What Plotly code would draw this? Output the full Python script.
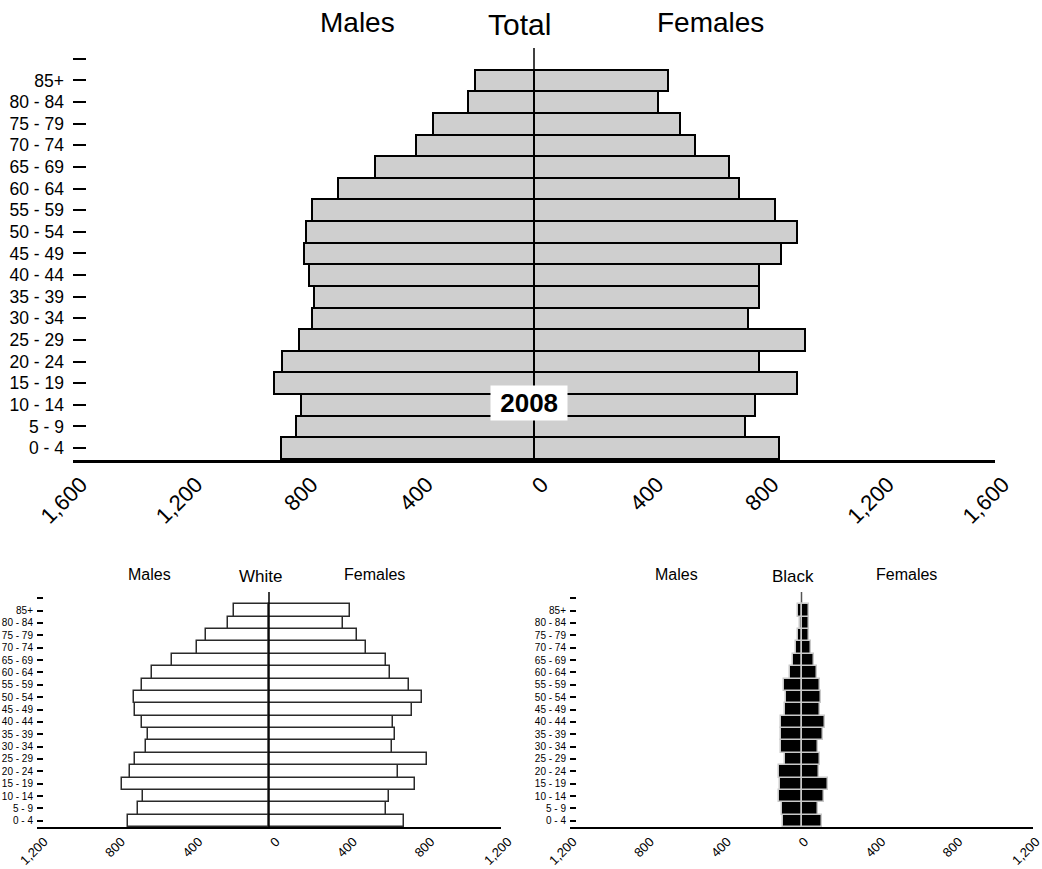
import plotly.graph_objects as go

# ---------------- data (bottom row 0-4 first) ----------------
age_groups = ["0 - 4", "5 - 9", "10 - 14", "15 - 19", "20 - 24", "25 - 29",
              "30 - 34", "35 - 39", "40 - 44", "45 - 49", "50 - 54", "55 - 59",
              "60 - 64", "65 - 69", "70 - 74", "75 - 79", "80 - 84", "85+"]
tick_labels_y = age_groups + [""]

total_males = [877, 826, 810, 903, 873, 815, 769, 762, 780, 797, 792, 769, 681, 553, 408, 350, 229, 206]
total_females = [849, 731, 768, 914, 782, 942, 743, 782, 782, 856, 912, 835, 713, 678, 560, 505, 430, 465]
white_males = [731, 676, 653, 762, 717, 691, 634, 628, 659, 695, 697, 657, 607, 500, 374, 326, 214, 181]
white_females = [700, 605, 622, 757, 667, 819, 636, 650, 643, 740, 793, 722, 626, 605, 503, 455, 384, 419]
black_males = [98, 102, 119, 111, 119, 88, 107, 104, 105, 83, 78, 92, 60, 45, 29, 19, 6, 16]
black_females = [105, 86, 119, 136, 93, 95, 86, 114, 123, 98, 102, 97, 79, 67, 48, 40, 41, 40]

top_ticks = [-1600, -1200, -800, -400, 0, 400, 800, 1200, 1600]
top_ticktext = ["1,600", "1,200", "800", "400", "0", "400", "800", "1,200", "1,600"]
bot_ticks = [-1200, -800, -400, 0, 400, 800, 1200]
bot_ticktext = ["1,200", "800", "400", "0", "400", "800", "1,200"]

year_label = "2008"

W, H = 1042, 869
FONT = "Liberation Sans, Arial, sans-serif"


def px_x(a, b):
    return [a / W, b / W]


def px_y(top, bottom):
    return [(H - bottom) / H, (H - top) / H]


ypos = list(range(len(age_groups)))
ytickpos = list(range(len(tick_labels_y)))

fig = go.Figure()


def add_pyramid(males, females, xa, ya, fill, outline, lw):
    fig.add_trace(go.Bar(y=ypos, x=[-v for v in males], orientation="h",
                         xaxis=xa, yaxis=ya, marker=dict(color=fill, line=dict(color=outline, width=lw)),
                         showlegend=False, hoverinfo="skip"))
    fig.add_trace(go.Bar(y=ypos, x=females, orientation="h",
                         xaxis=xa, yaxis=ya, marker=dict(color=fill, line=dict(color=outline, width=lw)),
                         showlegend=False, hoverinfo="skip"))


add_pyramid(total_males, total_females, "x", "y", "#cfcfcf", "#000000", 2)
add_pyramid(white_males, white_females, "x2", "y2", "#ffffff", "#2a2a2a", 1.5)
add_pyramid(black_males, black_females, "x3", "y3", "#000000", "#c8c8c8", 1.5)

top_dom_y = px_y(48, 460)
bot_dom_y = px_y(592, 827)

common_x = dict(showgrid=False, zeroline=False, showline=True, linecolor="#000000",
                ticks="", tickangle=-45, fixedrange=True, automargin=False,
                ticklabeloverflow="allow")
common_y = dict(showgrid=False, zeroline=False, showline=False, ticks="inside",
                tickcolor="#000000", tickwidth=1.5, fixedrange=True, automargin=False,
                tickmode="array", tickvals=ytickpos, ticktext=tick_labels_y)

fig.update_layout(
    width=W, height=H,
    margin=dict(l=0, r=0, t=0, b=0, autoexpand=False),
    paper_bgcolor="white", plot_bgcolor="white",
    barmode="relative", bargap=0,
    font=dict(family=FONT, color="#000000"),
    xaxis=dict(domain=px_x(73, 995), range=[-1600, 1600], anchor="y",
               tickmode="array", tickvals=top_ticks, ticktext=top_ticktext,
               linewidth=3, tickfont=dict(size=22, family=FONT),
               ticklabelshift=8, ticklabelstandoff=0, **common_x),
    yaxis=dict(domain=top_dom_y, range=[-0.55, 18.5], anchor="x",
               ticklen=13, tickfont=dict(size=17.5, family=FONT), ticklabelstandoff=8, **common_y),
    xaxis2=dict(domain=px_x(37, 501), range=[-1200, 1200], anchor="y2",
                tickmode="array", tickvals=bot_ticks, ticktext=bot_ticktext,
                linewidth=2, tickfont=dict(size=13, family=FONT),
                ticklabelshift=7, ticklabelstandoff=0, **common_x),
    yaxis2=dict(domain=bot_dom_y, range=[-0.5, 18.5], anchor="x2",
                ticklen=6, tickfont=dict(size=10, family=FONT), ticklabelstandoff=3, **common_y),
    xaxis3=dict(domain=px_x(570, 1033), range=[-1200, 1200], anchor="y3",
                tickmode="array", tickvals=bot_ticks, ticktext=bot_ticktext,
                linewidth=2, tickfont=dict(size=13, family=FONT),
                ticklabelshift=3, ticklabelstandoff=0, **common_x),
    yaxis3=dict(domain=bot_dom_y, range=[-0.5, 18.5], anchor="x3",
                ticklen=6, tickfont=dict(size=10, family=FONT), ticklabelstandoff=3, **common_y),
)

# centre lines
fig.add_shape(type="line", xref="x", yref="paper", x0=0, x1=0, y0=top_dom_y[0], y1=top_dom_y[1],
              line=dict(color="#000000", width=1.5), layer="above")
fig.add_shape(type="line", xref="x2", yref="paper", x0=0, x1=0, y0=bot_dom_y[0], y1=bot_dom_y[1],
              line=dict(color="#000000", width=1.5), layer="above")
fig.add_shape(type="line", xref="x3", yref="paper", x0=0, x1=0, y0=bot_dom_y[0], y1=bot_dom_y[1],
              line=dict(color="#555555", width=1.5), layer="below")


def title(text, xpx, ypx, size):
    fig.add_annotation(text=text, x=xpx / W, y=(H - ypx) / H, xref="paper", yref="paper",
                       showarrow=False, xanchor="center", yanchor="middle",
                       font=dict(size=size, family=FONT, color="#000000"))


title("Males", 357, 22, 28)
title("Total", 519, 24, 30)
title("Females", 710, 22, 28)
title("Males", 149, 574, 16)
title("White", 260, 576, 17)
title("Females", 374, 574, 16)
title("Males", 676, 574, 16)
title("Black", 793, 576, 17)
title("Females", 906, 574, 16)

fig.add_annotation(text="<b>&nbsp;" + year_label + "&nbsp;</b>", x=-16, y=2.1, xref="x", yref="y",
                   showarrow=False, bgcolor="white", borderpad=2,
                   font=dict(size=26, family=FONT, color="#000000"))

fig.write_html("out.html", config={"displayModeBar": False},
               post_script="document.body.style.margin='0';document.body.style.overflow='hidden';")
